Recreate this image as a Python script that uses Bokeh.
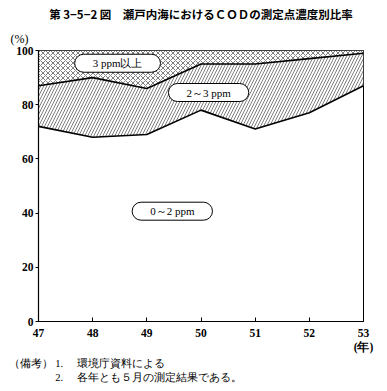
from bokeh.plotting import figure
from bokeh.models import Label, Range1d, FixedTicker, Title
from bokeh.embed import file_html
from bokeh.resources import INLINE

years = [47, 48, 49, 50, 51, 52, 53]
lower = [72, 68, 69, 78, 71, 77, 87]   # 0~2ppm share (cumulative)
upper = [87, 90, 86, 95, 95, 97, 99]   # 0~3ppm share (cumulative)
top = [100] * len(years)
y_ticks = [0, 20, 40, 60, 80, 100]
x_tick_labels = {47: "47", 48: "48", 49: "49", 50: "50", 51: "51", 52: "52", 53: "53\n(年)"}

title = "第 3−5−2 図　瀬戸内海におけるＣＯＤの測定点濃度別比率"
band_labels = ["3 ppm以上", "2～3 ppm", "0～2 ppm"]
notes = "（備考） 1.　 環境庁資料による\n　　　　 2.　 各年とも５月の測定結果である。"

SERIF = "Liberation Serif"
JP = "Noto Sans CJK JP"

p = figure(width=378, height=383, output_backend="svg", toolbar_location=None,
           x_range=Range1d(47, 53), y_range=Range1d(0, 100),
           min_border_left=38, min_border_right=15, min_border_top=0, min_border_bottom=0)
p.background_fill_color = "white"
p.border_fill_color = "white"
p.outline_line_color = "black"
p.outline_line_width = 1
p.xgrid.visible = False
p.ygrid.visible = False

# bands
p.varea(x=years, y1=upper, y2=top, fill_color="white", hatch_pattern="x",
        hatch_color="black", hatch_scale=5, hatch_weight=0.5)
p.varea(x=years, y1=lower, y2=upper, fill_color="white", hatch_pattern="/",
        hatch_color="black", hatch_scale=6, hatch_weight=0.5)
p.line(years, lower, line_color="black", line_width=1.6)
p.line(years, upper, line_color="black", line_width=1.6)

# axes
p.xaxis.ticker = FixedTicker(ticks=years)
p.xaxis.major_label_overrides = x_tick_labels
p.yaxis.ticker = FixedTicker(ticks=y_ticks)
for ax in (p.xaxis[0], p.yaxis[0]):
    ax.axis_line_color = "black"
    ax.axis_line_width = 1.2
    ax.major_tick_line_color = "black"
    ax.minor_tick_line_color = None
    ax.major_label_text_font = SERIF
    ax.major_label_text_font_size = "11.5px"
    ax.major_label_text_font_style = "bold"
    ax.major_label_text_color = "black"
    ax.axis_label_standoff = 0
p.xaxis.major_tick_in = 4
p.xaxis.major_tick_out = 0
p.xaxis.major_label_standoff = 5
p.yaxis.major_tick_in = 0
p.yaxis.major_tick_out = 3
p.yaxis.major_label_standoff = 2

# title and y unit
p.title.text = title
p.title.align = "center"
p.title.text_font = JP
p.title.text_font_size = "11.5px"
p.title.text_font_style = "bold"
p.title.text_color = "black"
p.title.standoff = 6

pct = Title(text="(%)", align="left", offset=-28, text_font=SERIF,
            text_font_size="12px", text_font_style="normal", text_color="black", standoff=10)
p.add_layout(pct, "above")

# notes
n1 = Title(text=notes, align="left", offset=-30, text_font=SERIF,
           text_font_size="10.5px", text_font_style="normal", text_color="black",
           text_line_height=1.35, standoff=0)
p.add_layout(n1, "below")

def lab(x, y, text, font=SERIF, size="11px", align="center", **kw):
    l = Label(x=x, y=y, text=text, text_font=font, text_font_size=size,
              text_align=align, text_baseline="middle",
              text_color="black", **kw)
    p.add_layout(l)
    return l

# band labels (rounded boxes)
box_pos = [(48.46, 95.3), (50.14, 84.5), (49.47, 40.7)]
for (bx, by), t in zip(box_pos, band_labels):
    lab(bx, by, t, background_fill_color="white", border_line_color="black",
        border_line_width=1, border_radius=9, padding=(18, 3))

open("out.html", "w").write(file_html(p, INLINE))
